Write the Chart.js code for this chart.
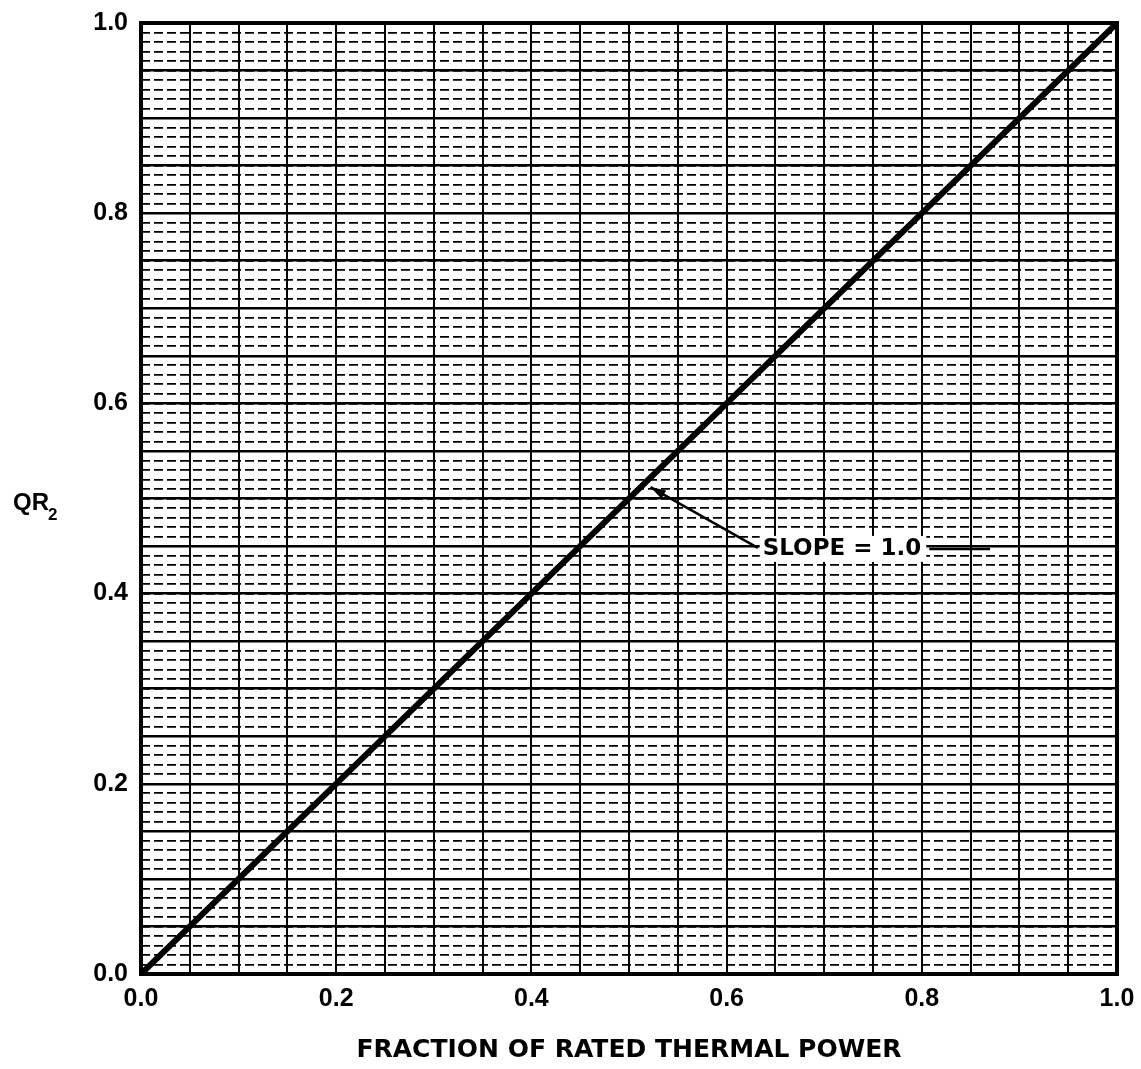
<!DOCTYPE html>
<html>
<head>
<meta charset="utf-8">
<script src="https://cdn.jsdelivr.net/npm/chart.js@4"></script>
<style>
  html, body { margin: 0; padding: 0; background: #fff; }
  #wrap { width: 1141px; height: 1069px; }
</style>
</head>
<body>
<div id="wrap"><canvas id="qrChart"></canvas></div>
<script>
// === Дані ===
const powerFraction = [0.0, 1.0];
const qr2Values = [0.0, 1.0];
const tickLabels = ['0.0', '0.2', '0.4', '0.6', '0.8', '1.0'];
const xTitle = 'FRACTION OF RATED THERMAL POWER';
const yTitle = 'QR';
const yTitleSub = '2';
const slopeText = 'SLOPE = 1.0';

// label only every 4th tick (0.05 step -> 0.2)
function majorLabel(value, index) {
    return index % 4 === 0 ? tickLabels[index / 4] : '';
}

const tickFont = { family: '"Liberation Sans", Arial, sans-serif', size: 25, weight: 'bold' };
const wideFont = '"DejaVu Sans", sans-serif';

// рамка, підпис осі Y та стрілка "SLOPE"
const extrasPlugin = {
    id: 'extras',
    afterDraw(chart) {
        const c = chart.ctx;
        const a = chart.chartArea;
        const xs = chart.scales.x, ys = chart.scales.y;
        c.save();
        c.strokeStyle = '#000';
        c.lineWidth = 4;
        c.strokeRect(a.left, a.top, a.right - a.left, a.bottom - a.top);

        c.fillStyle = '#000';
        c.textBaseline = 'alphabetic';
        c.textAlign = 'left';
        c.font = 'bold 24px "Liberation Sans", Arial, sans-serif';
        c.fillText(yTitle, 13, 510);
        const w = c.measureText(yTitle).width;
        c.font = 'bold 17px "Liberation Sans", Arial, sans-serif';
        c.fillText(yTitleSub, 13 + w - 1, 520);

        // arrow
        const tipX = xs.getPixelForValue(0.522), tipY = ys.getPixelForValue(0.512);
        const tailX = xs.getPixelForValue(0.632), tailY = ys.getPixelForValue(0.448);
        c.lineWidth = 2.5;
        c.beginPath();
        c.moveTo(tailX, tailY);
        c.lineTo(tipX, tipY);
        c.stroke();
        const ang = Math.atan2(tipY - tailY, tipX - tailX);
        c.beginPath();
        c.moveTo(tipX, tipY);
        c.lineTo(tipX - 16 * Math.cos(ang - 0.3), tipY - 16 * Math.sin(ang - 0.3));
        c.lineTo(tipX - 16 * Math.cos(ang + 0.3), tipY - 16 * Math.sin(ang + 0.3));
        c.closePath();
        c.fill();

        c.font = 'bold 23px ' + wideFont;
        c.textBaseline = 'middle';
        const tx = xs.getPixelForValue(0.637), ty = ys.getPixelForValue(0.447);
        const tw = c.measureText(slopeText).width;
        c.fillStyle = '#fff';
        c.fillRect(tx - 3, ty - 13, tw + 8, 26);
        c.fillStyle = '#000';
        c.fillText(slopeText, tx, ty);
        c.lineWidth = 2.5;
        c.beginPath();
        c.moveTo(tx + tw + 8, ty);
        c.lineTo(xs.getPixelForValue(0.87), ty);
        c.stroke();
        c.restore();
    }
};

const ctx = document.getElementById('qrChart').getContext('2d');
new Chart(ctx, {
    type: 'line',
    data: {
        labels: powerFraction,
        datasets: [{
            data: powerFraction.map((x, i) => ({ x: x, y: qr2Values[i] })),
            borderColor: '#000',
            borderWidth: 6,
            pointRadius: 0,
            fill: false,
            tension: 0,
            yAxisID: 'y'
        }]
    },
    options: {
        responsive: true,
        maintainAspectRatio: false,
        animation: false,
        layout: { padding: { top: 23, right: 24, bottom: 4, left: 0 } },
        plugins: { legend: { display: false }, tooltip: { enabled: false } },
        scales: {
            x: {
                type: 'linear',
                min: 0, max: 1,
                afterFit(scale) { scale.paddingLeft = 0; scale.paddingRight = 0; },
                grid: { color: '#000', lineWidth: 2, drawTicks: false },
                border: { display: false },
                ticks: {
                    stepSize: 0.05, autoSkip: false, maxRotation: 0,
                    padding: 10, color: '#000', font: tickFont,
                    callback: majorLabel
                },
                title: {
                    display: true, text: xTitle, color: '#000',
                    font: { family: wideFont, size: 25, weight: 'bold' },
                    padding: { top: 11, bottom: 0 }
                }
            },
            y: {
                type: 'linear',
                min: 0, max: 1,
                afterFit(scale) { scale.width = 141; scale.paddingTop = 0; scale.paddingBottom = 0; },
                grid: { color: '#000', lineWidth: 2.6, drawTicks: false },
                border: { display: false },
                ticks: {
                    stepSize: 0.05, autoSkip: false,
                    padding: 13, color: '#000', font: tickFont,
                    callback: majorLabel
                }
            },
            yMinor: {
                type: 'linear',
                position: 'right',
                min: 0, max: 1,
                afterFit(scale) { scale.width = 0; scale.paddingTop = 0; scale.paddingBottom = 0; },
                grid: { color: '#000', lineWidth: 1.8, drawTicks: false },
                border: { display: false, dash: [9, 4] },
                ticks: { stepSize: 0.01, display: false }
            }
        }
    },
    plugins: [extrasPlugin]
});
</script>
</body>
</html>
